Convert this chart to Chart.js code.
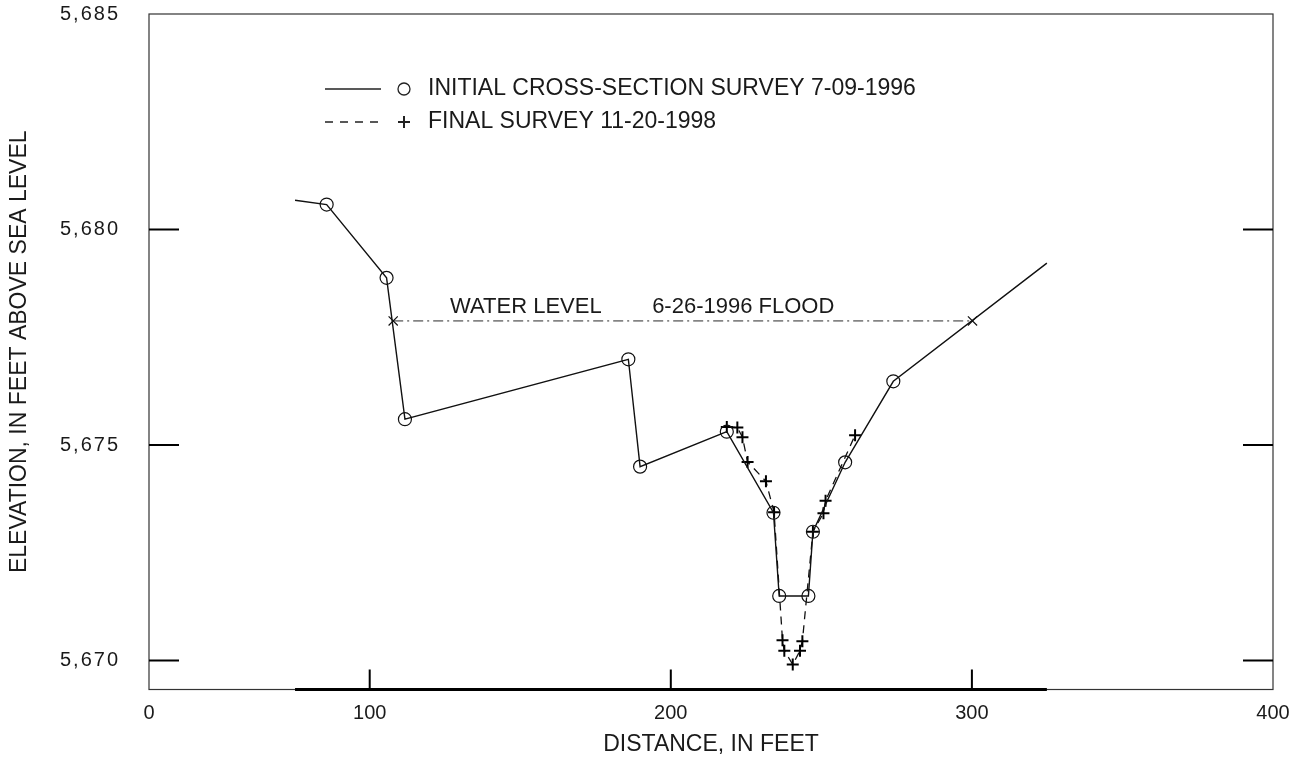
<!DOCTYPE html>
<html>
<head>
<meta charset="utf-8">
<script src="https://cdn.jsdelivr.net/npm/chart.js@4.4.1/dist/chart.umd.min.js"></script>
<style>
  html, body { margin: 0; background: #fff; }
  #wrap { width: 1307px; height: 758px; position: relative; }
</style>
</head>
<body>
<div id="wrap"><canvas id="chart"></canvas></div>
<script>
// cross-section survey values
const initialDistance = [75.2, 85.7, 105.6, 111.7, 185.9, 189.8, 218.6, 234.1, 236.0, 245.7, 247.2, 257.9, 273.9, 324.9];
const initialElevation = [5680.68, 5680.58, 5678.88, 5675.60, 5676.99, 5674.50, 5675.31, 5673.43, 5671.50, 5671.50, 5672.99, 5674.60, 5676.48, 5679.22];

const finalDistance = [218.6, 222.1, 223.8, 225.5, 231.6, 234.3, 237.1, 237.7, 240.5, 242.9, 243.7, 247.2, 250.7, 251.4, 261.2];
const finalElevation = [5675.42, 5675.41, 5675.18, 5674.61, 5674.16, 5673.44, 5670.47, 5670.23, 5669.91, 5670.23, 5670.45, 5672.99, 5673.42, 5673.71, 5675.23];

const waterDistance = [107.8, 300.2];
const waterElevation = [5677.88, 5677.88];

const xTickValues = [26.7, 100, 200, 300, 400];
const xTickLabels = ["0", "100", "200", "300", "400"];
const yTickValues = [5670, 5675, 5680, 5685];

const legendLabels = ["INITIAL CROSS-SECTION SURVEY 7-09-1996", "FINAL SURVEY 11-20-1998"];
const waterLabels = ["WATER LEVEL", "6-26-1996 FLOOD"];
const waterLabelDistance = [126.7, 193.8];

const FONT = "'Liberation Sans', Arial, sans-serif";
const INK = "#1a1a1a";

function pairs(xs, ys) {
  return xs.map((x, i) => ({ x, y: ys[i] }));
}

// elevation tick labels are tracked out a little in the original;
// they are drawn on layer z=1, i.e. after the datasets
const tracking = {
  id: "tracking",
  beforeDraw(chart) { chart.ctx.letterSpacing = "0px"; },
  afterDatasetsDraw(chart) { chart.ctx.letterSpacing = "2px"; },
};

const frame = {
  id: "frame",
  afterDraw(chart) {
    const { ctx, chartArea: a, scales: { x, y } } = chart;
    ctx.letterSpacing = "0px";
    ctx.save();
    ctx.strokeStyle = "#333";
    ctx.lineWidth = 1.2;
    ctx.strokeRect(a.left, a.top, a.right - a.left, a.bottom - a.top);

    // tick marks point inward, on both sides
    ctx.strokeStyle = "#000";
    ctx.lineWidth = 2;
    ctx.beginPath();
    yTickValues.slice(0, -1).forEach((v) => {
      const p = y.getPixelForValue(v);
      ctx.moveTo(a.left, p); ctx.lineTo(a.left + 30, p);
      ctx.moveTo(a.right, p); ctx.lineTo(a.right - 30, p);
    });
    xTickValues.slice(1, -1).forEach((v) => {
      const p = x.getPixelForValue(v);
      ctx.moveTo(p, a.bottom); ctx.lineTo(p, a.bottom - 20);
    });
    ctx.stroke();

    // heavy base line under the surveyed section
    ctx.lineWidth = 3;
    ctx.beginPath();
    ctx.moveTo(x.getPixelForValue(initialDistance[0]), a.bottom);
    ctx.lineTo(x.getPixelForValue(initialDistance[initialDistance.length - 1]), a.bottom);
    ctx.stroke();

    // water level text
    ctx.fillStyle = INK;
    ctx.font = "22px " + FONT;
    ctx.textBaseline = "alphabetic";
    waterLabels.forEach((t, i) => {
      ctx.fillText(t, x.getPixelForValue(waterLabelDistance[i]), y.getPixelForValue(waterElevation[0]) - 8);
    });

    // legend
    const lx = 325, ly = [89, 122];
    ctx.lineWidth = 1.3;
    ctx.strokeStyle = "#222";
    ctx.beginPath();
    ctx.moveTo(lx, ly[0]); ctx.lineTo(lx + 56, ly[0]);
    ctx.stroke();
    ctx.setLineDash([8, 7]);
    ctx.beginPath();
    ctx.moveTo(lx, ly[1]); ctx.lineTo(lx + 56, ly[1]);
    ctx.stroke();
    ctx.setLineDash([]);
    ctx.beginPath();
    ctx.arc(lx + 79, ly[0], 6, 0, Math.PI * 2);
    ctx.stroke();
    ctx.lineWidth = 2;
    ctx.beginPath();
    ctx.moveTo(lx + 73, ly[1]); ctx.lineTo(lx + 85, ly[1]);
    ctx.moveTo(lx + 79, ly[1] - 6); ctx.lineTo(lx + 79, ly[1] + 6);
    ctx.stroke();
    ctx.font = "23px " + FONT;
    ctx.textBaseline = "middle";
    legendLabels.forEach((t, i) => ctx.fillText(t, lx + 103, ly[i]));
    ctx.restore();
  },
};

const last = initialDistance.length - 1;

new Chart(document.getElementById("chart"), {
  type: "line",
  data: {
    datasets: [
      {
        label: "Water level",
        data: pairs(waterDistance, waterElevation),
        borderColor: "#2a2a2a",
        borderWidth: 1,
        borderDash: [10, 4, 2, 4],
        pointStyle: "crossRot",
        pointRadius: 6.5,
        pointBorderWidth: 1.2,
        pointBorderColor: "#111",
      },
      {
        label: legendLabels[0],
        data: pairs(initialDistance, initialElevation),
        borderColor: "#111",
        borderWidth: 1.4,
        pointStyle: "circle",
        pointRadius: initialDistance.map((_, i) => (i === 0 || i === last ? 0 : 6.5)),
        pointBackgroundColor: "rgba(0,0,0,0)",
        pointBorderColor: "#111",
        pointBorderWidth: 1.2,
      },
      {
        label: legendLabels[1],
        data: pairs(finalDistance, finalElevation),
        borderColor: "#111",
        borderWidth: 1.3,
        borderDash: [8, 6],
        pointStyle: "cross",
        pointRadius: 6,
        pointBorderColor: "#000",
        pointBorderWidth: 2,
      },
    ],
  },
  options: {
    responsive: true,
    maintainAspectRatio: false,
    animation: false,
    layout: { padding: { top: 14, right: 34, left: 0, bottom: 0 } },
    plugins: { legend: { display: false }, tooltip: { enabled: false } },
    elements: { line: { tension: 0 } },
    scales: {
      x: {
        type: "linear",
        min: 26.7,
        max: 400,
        grid: { display: false },
        border: { display: false },
        afterBuildTicks: (s) => { s.ticks = xTickValues.map((v) => ({ value: v })); },
        afterFit: (s) => { s.height = 68.5; s.paddingLeft = 0; s.paddingRight = 0; },
        ticks: {
          padding: 4,
          color: INK,
          font: { family: FONT, size: 20 },
          maxRotation: 0,
          callback: (v) => xTickLabels[xTickValues.indexOf(v)],
        },
        title: {
          display: true,
          text: "DISTANCE, IN FEET",
          color: INK,
          font: { family: FONT, size: 23 },
          padding: { top: 0, bottom: 0 },
        },
      },
      y: {
        type: "linear",
        min: 5669.33,
        max: 5685,
        grid: { display: false },
        border: { display: false },
        afterBuildTicks: (s) => { s.ticks = yTickValues.map((v) => ({ value: v })); },
        afterFit: (s) => { s.width = 149; s.paddingTop = 0; s.paddingBottom = 0; },
        ticks: {
          z: 1,
          padding: 21,
          color: INK,
          font: { family: FONT, size: 20 },
          callback: (v) => v.toLocaleString("en-US"),
        },
        title: {
          display: true,
          text: "ELEVATION, IN FEET ABOVE SEA LEVEL",
          color: INK,
          font: { family: FONT, size: 23 },
          padding: { top: 6, bottom: 0 },
        },
      },
    },
  },
  plugins: [tracking, frame],
});
</script>
</body>
</html>
